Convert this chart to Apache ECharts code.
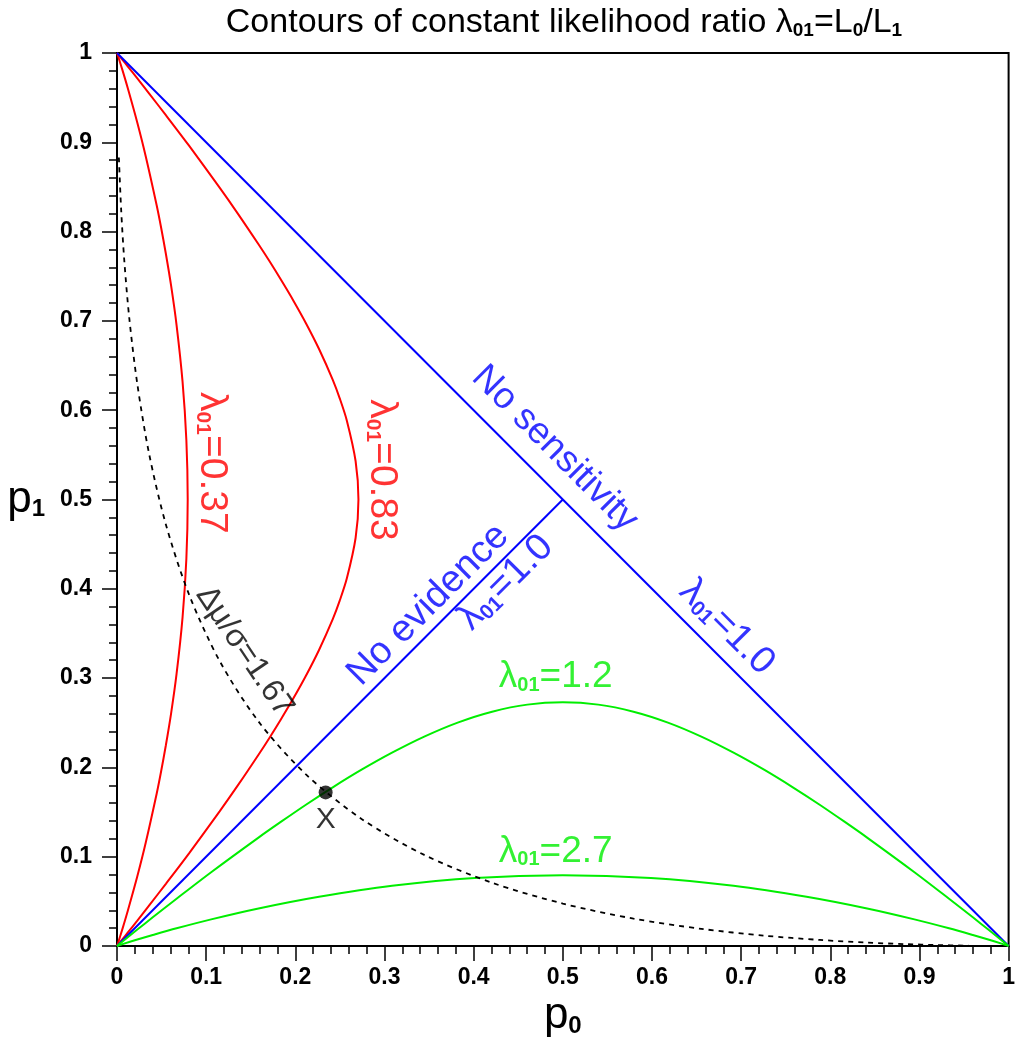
<!DOCTYPE html>
<html>
<head>
<meta charset="utf-8">
<script src="https://cdn.jsdelivr.net/npm/echarts@6/dist/echarts.min.js"></script>
<style>
html, body { margin: 0; padding: 0; background: #fff; }
#chart { width: 1018px; height: 1053px; }
</style>
</head>
<body>
<div id="chart"></div>
<script>
// contour points [p0, p1]
const lambda037 = [[0,0],[0.00023,0.00068],[0.00135,0.0040],[0.0062,0.0195],[0.0122,0.0398],[0.0228,0.0781],[0.0322,0.1156],[0.0446,0.1711],[0.0495,0.1957],[0.0548,0.2248],[0.0606,0.2600],[0.0668,0.3046],[0.0735,0.3678],[0.0778,0.4337],[0.0793,0.5],[0.0778,0.5663],[0.0735,0.6322],[0.0668,0.6954],[0.0606,0.7400],[0.0548,0.7752],[0.0495,0.8043],[0.0446,0.8289],[0.0322,0.8844],[0.0228,0.9219],[0.0122,0.9602],[0.0062,0.9805],[0.00135,0.9960],[0.00023,0.99932],[0,1]]
const lambda083 = [[0,0],[0.00135,0.00166],[0.0062,0.0077],[0.0122,0.0152],[0.0228,0.0284],[0.0359,0.0452],[0.0548,0.0696],[0.0808,0.1038],[0.1151,0.1508],[0.1357,0.1801],[0.1587,0.2142],[0.1711,0.2333],[0.1841,0.2543],[0.1977,0.2771],[0.2119,0.3026],[0.2266,0.3315],[0.2420,0.3660],[0.2498,0.3867],[0.2578,0.4117],[0.2676,0.4569],[0.2708,0.5],[0.2676,0.5431],[0.2578,0.5883],[0.2498,0.6133],[0.2420,0.6340],[0.2266,0.6685],[0.2119,0.6974],[0.1977,0.7229],[0.1841,0.7457],[0.1711,0.7667],[0.1587,0.7858],[0.1357,0.8199],[0.1151,0.8492],[0.0808,0.8962],[0.0548,0.9304],[0.0359,0.9548],[0.0228,0.9716],[0.0122,0.9848],[0.0062,0.9923],[0.00135,0.99834],[0,1]]
const lambda12 = [[0,0],[0.00135,0.00111],[0.0062,0.0051],[0.0228,0.0184],[0.0401,0.0321],[0.0668,0.0529],[0.1056,0.0826],[0.1587,0.1214],[0.1841,0.1392],[0.2119,0.1582],[0.2420,0.1777],[0.2743,0.1974],[0.3085,0.2165],[0.3446,0.2345],[0.3821,0.2502],[0.4207,0.2624],[0.4602,0.2703],[0.5,0.2729],[0.5398,0.2703],[0.5793,0.2624],[0.6179,0.2502],[0.6554,0.2345],[0.6915,0.2165],[0.7257,0.1974],[0.7580,0.1777],[0.7881,0.1582],[0.8159,0.1392],[0.8413,0.1214],[0.8944,0.0826],[0.9332,0.0529],[0.9599,0.0321],[0.9772,0.0184],[0.9938,0.0051],[0.99865,0.00111],[1,0]]
const lambda27 = [[0,0],[0.00135,0.00046],[0.0062,0.0021],[0.0228,0.0072],[0.0401,0.0123],[0.0668,0.0198],[0.1056,0.0298],[0.1587,0.0420],[0.2266,0.0551],[0.3085,0.0674],[0.4013,0.0762],[0.5,0.0793],[0.5987,0.0762],[0.6915,0.0674],[0.7734,0.0551],[0.8413,0.0420],[0.8944,0.0298],[0.9332,0.0198],[0.9599,0.0123],[0.9772,0.0072],[0.9938,0.0021],[0.99865,0.00046],[1,0]]
const noSensitivity = [[0,1],[1,0]]
const noEvidence = [[0,0],[0.5,0.5]]
const dmu167 = [[0.0021,0.8830],[0.0047,0.8238],[0.0082,0.7673],[0.0139,0.7019],[0.0228,0.6293],[0.0359,0.5517],[0.0548,0.4721],[0.0808,0.3936],[0.1151,0.3192],[0.1587,0.2514],[0.2119,0.1922],[0.2743,0.1423],[0.3446,0.1020],[0.4207,0.0708],[0.5,0.0475],[0.5793,0.0307],[0.6554,0.0192],[0.7257,0.0116],[0.7881,0.0068],[0.8413,0.0038],[0.8849,0.0021],[0.9192,0.0011],[0.9554,0.0004]]
const pointX = [[0.234, 0.172]]
const axisMin = 0, axisMax = 1, tickStep = 0.1

const FONT = "'Liberation Sans', Arial, sans-serif"
const RED = '#ff0000', BLUE = '#0000ff', GREEN = '#00ee00'

// rich styles: m = normal text, s = subscript
function richFor(color, size) {
  return {
    m: { color: color, fontSize: size, fontFamily: FONT },
    s: { color: color, fontSize: Math.round(size * 0.55), fontWeight: 'bold', fontFamily: FONT, verticalAlign: 'bottom' }
  }
}
const lam = (v) => '{m|λ}{s|01}{m|=' + v + '}'

const notes = [
  { text: lam('0.37'), at: [0.106, 0.541], rot: -90, color: RED, size: 39 },
  { text: lam('0.83'), at: [0.297, 0.533], rot: -90, color: RED, size: 39 },
  { text: '{m|No sensitivity}', at: [0.491, 0.557], rot: -45, color: BLUE, size: 37 },
  { text: lam('1.0'), at: [0.684, 0.357], rot: -45, color: BLUE, size: 38 },
  { text: '{m|No evidence}', at: [0.349, 0.382], rot: 45, color: BLUE, size: 38 },
  { text: lam('1.0'), at: [0.436, 0.407], rot: 45, color: BLUE, size: 38 },
  { text: lam('1.2'), at: [0.492, 0.301], rot: 0, color: GREEN, size: 37 },
  { text: lam('2.7'), at: [0.492, 0.106], rot: 0, color: GREEN, size: 37 },
  { text: '{m|Δμ/σ=1.67}', at: [0.143, 0.330], rot: -56, color: '#000', size: 32 },
  { text: '{m|X}', at: [0.234, 0.141], rot: 0, color: '#000', size: 30 }
]

const curve = (data, color, dashed) => ({
  type: 'line', data: data, symbol: 'none', smooth: 0.3, silent: true,
  lineStyle: { color: color, width: dashed ? 1.8 : 2, type: dashed ? [5, 5] : 'solid' }
})

const axisCommon = {
  type: 'value', min: axisMin, max: axisMax, interval: tickStep,
  axisLine: { show: true, lineStyle: { color: '#000', width: 2 } },
  axisTick: { show: true, length: 15, lineStyle: { color: '#000', width: 1.5 } },
  minorTick: { show: true, splitNumber: 5, length: 8, lineStyle: { color: '#000', width: 1.5 } },
  splitLine: { show: false },
  minorSplitLine: { show: false },
}

const chart = echarts.init(document.getElementById('chart'))
chart.setOption({
  animation: false,
  textStyle: { fontFamily: FONT },
  grid: { left: 117, right: 6, top: 53, bottom: 107, show: true, borderColor: '#000', borderWidth: 2 },
  graphic: [{
    type: 'text', x: 564, y: 6, z: 10,
    style: {
      text: '{m|Contours of constant likelihood ratio λ}{s|01}{m|=L}{s|0}{m|/L}{s|1}',
      align: 'center', verticalAlign: 'top', textAlign: 'center', textVerticalAlign: 'top',
      rich: richFor('#000', 34)
    }
  }],
  xAxis: Object.assign({}, axisCommon, {
    axisLabel: { color: '#000', fontSize: 23, fontWeight: 'bold', margin: 20, fontFamily: FONT },
    name: '{m|p}{s|0}', nameLocation: 'middle', nameGap: 36,
    nameTextStyle: { rich: richFor('#000', 44) }
  }),
  yAxis: Object.assign({}, axisCommon, {
    axisLabel: { color: '#000', fontSize: 23, fontWeight: 'bold', margin: 25, fontFamily: FONT },
    name: '{m|p}{s|1}', nameLocation: 'middle', nameGap: 72, nameRotate: 0,
    nameTextStyle: { rich: richFor('#000', 44) }
  }),
  series: [
    curve(lambda037, RED),
    curve(lambda083, RED),
    curve(noSensitivity, BLUE),
    curve(noEvidence, BLUE),
    curve(lambda12, GREEN),
    curve(lambda27, GREEN),
    curve(dmu167, '#000', true),
    {
      type: 'scatter', data: pointX, symbol: 'circle', symbolSize: 14, silent: true, z: 5,
      itemStyle: { color: '#000' }
    },
    {
      type: 'scatter', symbolSize: 0, silent: true, z: 6,
      data: notes.map(n => ({
        value: n.at,
        label: { show: true, position: 'inside', rotate: n.rot, formatter: n.text, rich: richFor(n.color, n.size) }
      }))
    }
  ]
})
</script>
</body>
</html>
